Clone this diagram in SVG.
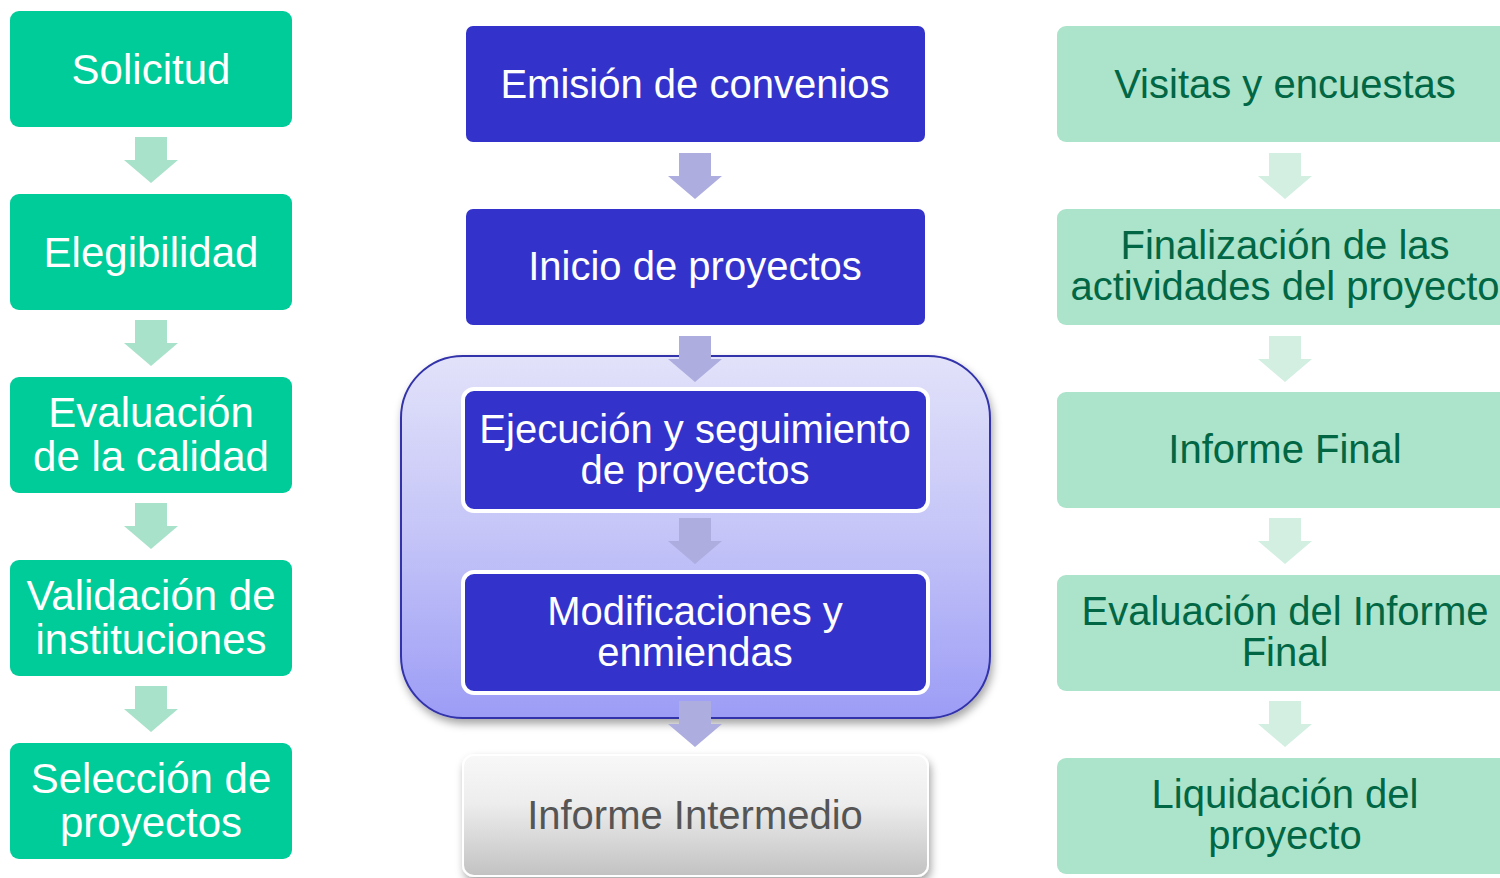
<svg xmlns="http://www.w3.org/2000/svg" width="1500" height="878" viewBox="0 0 1500 878">
<defs>
<style>
.lbox{fill:#00CC99}
.mbox{fill:#3333CC}
.ibox{fill:#3333CC;stroke:#FFFFFF;stroke-width:4}
.rbox{fill:#ABE3CB}
.lt{font-family:"Liberation Sans",Arial,sans-serif;font-size:42px;fill:#FFFFFF;text-anchor:middle}
.mt{font-family:"Liberation Sans",Arial,sans-serif;font-size:40px;fill:#FFFFFF;text-anchor:middle}
.rt{font-family:"Liberation Sans",Arial,sans-serif;font-size:40px;fill:#006644;text-anchor:middle}
.gt{font-family:"Liberation Sans",Arial,sans-serif;font-size:40px;fill:#555555;text-anchor:middle}
.la{fill:#A9E2CA}
.ma{fill:#ADADE0}
.ra{fill:#D2EFE2}
</style>
<linearGradient id="cont" x1="0" y1="0" x2="0" y2="1">
<stop offset="0" stop-color="#E2E2FA"/>
<stop offset="0.5" stop-color="#C4C4F8"/>
<stop offset="1" stop-color="#9C9CF6"/>
</linearGradient>
<linearGradient id="gray" x1="0" y1="0" x2="0" y2="1">
<stop offset="0" stop-color="#F8F8F8"/>
<stop offset="0.4" stop-color="#EDEDED"/>
<stop offset="1" stop-color="#C2C2C2"/>
</linearGradient>
<filter id="sh" x="-10%" y="-10%" width="125%" height="130%">
<feDropShadow dx="2" dy="5" stdDeviation="4" flood-color="#000000" flood-opacity="0.35"/>
</filter>
<path id="arr" d="M-16,0 H16 V23 H27 L0,46 L-27,23 H-16 Z"/>
</defs>

<g id="container">
<rect x="401" y="356" width="589" height="362" rx="62" fill="url(#cont)" stroke="#3333AA" stroke-width="2" filter="url(#sh)"/>
</g>

<g id="connectors">
<use href="#arr" x="151" y="137" class="la"/>
<use href="#arr" x="151" y="320" class="la"/>
<use href="#arr" x="151" y="503" class="la"/>
<use href="#arr" x="151" y="686" class="la"/>
<use href="#arr" x="695" y="153" class="ma"/>
<use href="#arr" x="695" y="336" class="ma"/>
<use href="#arr" x="695" y="518" class="ma"/>
<use href="#arr" x="695" y="701" class="ma"/>
<use href="#arr" x="1285" y="153" class="ra"/>
<use href="#arr" x="1285" y="336" class="ra"/>
<use href="#arr" x="1285" y="518" class="ra"/>
<use href="#arr" x="1285" y="701" class="ra"/>
</g>

<g id="solicitud"><rect class="lbox" x="10" y="11" width="282" height="116" rx="9"/><text class="lt" x="151" y="84">Solicitud</text></g>
<g id="elegibilidad"><rect class="lbox" x="10" y="194" width="282" height="116" rx="9"/><text class="lt" x="151" y="267">Elegibilidad</text></g>
<g id="evaluacion"><rect class="lbox" x="10" y="377" width="282" height="116" rx="9"/><text class="lt" x="151" y="427">Evaluación</text><text class="lt" x="151" y="471">de la calidad</text></g>
<g id="validacion"><rect class="lbox" x="10" y="560" width="282" height="116" rx="9"/><text class="lt" x="151" y="610">Validación de</text><text class="lt" x="151" y="654">instituciones</text></g>
<g id="seleccion"><rect class="lbox" x="10" y="743" width="282" height="116" rx="9"/><text class="lt" x="151" y="793">Selección de</text><text class="lt" x="151" y="837">proyectos</text></g>

<g id="emision"><rect class="mbox" x="466" y="26" width="459" height="116" rx="7"/><text class="mt" x="695" y="98">Emisión de convenios</text></g>
<g id="inicio"><rect class="mbox" x="466" y="209" width="459" height="116" rx="7"/><text class="mt" x="695" y="280">Inicio de proyectos</text></g>
<g id="ejecucion"><rect class="ibox" x="463" y="389" width="465" height="122" rx="11"/><text class="mt" x="695" y="443">Ejecución y seguimiento</text><text class="mt" x="695" y="484">de proyectos</text></g>
<g id="modificaciones"><rect class="ibox" x="463" y="572" width="465" height="121" rx="11"/><text class="mt" x="695" y="625">Modificaciones y</text><text class="mt" x="695" y="666">enmiendas</text></g>
<g id="informe-intermedio"><rect x="463" y="755" width="465" height="121" rx="11" fill="url(#gray)" stroke="#FFFFFF" stroke-width="2" filter="url(#sh)"/><text class="gt" x="695" y="829">Informe Intermedio</text></g>

<g id="visitas"><rect class="rbox" x="1057" y="26" width="460" height="116" rx="9"/><text class="rt" x="1285" y="98">Visitas y encuestas</text></g>
<g id="finalizacion"><rect class="rbox" x="1057" y="209" width="460" height="116" rx="9"/><text class="rt" x="1285" y="259">Finalización de las</text><text class="rt" x="1285" y="300">actividades del proyecto</text></g>
<g id="informe-final"><rect class="rbox" x="1057" y="392" width="460" height="116" rx="9"/><text class="rt" x="1285" y="463">Informe Final</text></g>
<g id="evaluacion-informe"><rect class="rbox" x="1057" y="575" width="460" height="116" rx="9"/><text class="rt" x="1285" y="625">Evaluación del Informe</text><text class="rt" x="1285" y="666">Final</text></g>
<g id="liquidacion"><rect class="rbox" x="1057" y="758" width="460" height="116" rx="9"/><text class="rt" x="1285" y="808">Liquidación del</text><text class="rt" x="1285" y="849">proyecto</text></g>
</svg>
